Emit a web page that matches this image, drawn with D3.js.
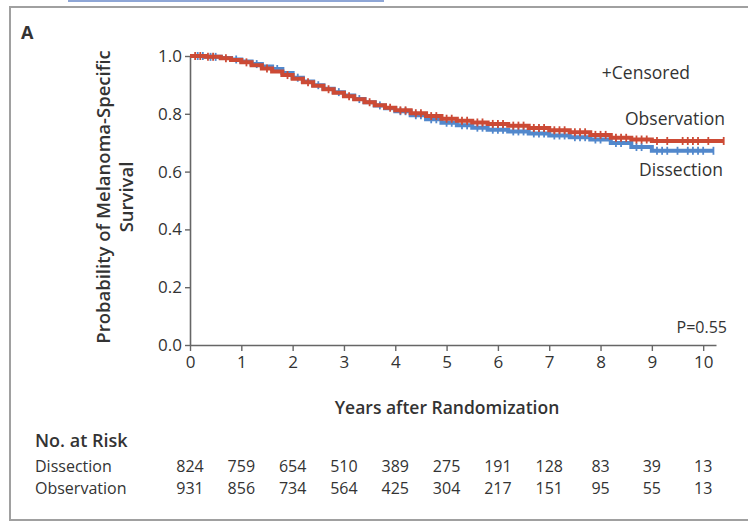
<!DOCTYPE html>
<html>
<head>
<meta charset="utf-8">
<script src="https://cdn.jsdelivr.net/npm/d3@7"></script>
<style>
  body { margin: 0; background: #fff; }
  text { font-family: "Open Sans", "Noto Sans", sans-serif; fill: #333; }
</style>
</head>
<body>
<div id="chart"></div>
<script>
// KM curves (years, survival)

var years = [0, 1, 2, 3, 4, 5, 6, 7, 8, 9, 10];
var yTicks = [0.0, 0.2, 0.4, 0.6, 0.8, 1.0];

var obsTimes = [0, 0.3, 0.6, 0.8, 1.0, 1.2, 1.4, 1.6, 1.8, 2.0, 2.2, 2.4, 2.6, 2.8, 3.0, 3.2, 3.4, 3.6, 3.8, 4.0, 4.3, 4.6, 4.9, 5.2, 5.5, 5.8, 6.2, 6.6, 7.0, 7.4, 7.8, 8.2, 8.6, 9.0, 10.4];
var obsSurv  = [1.0, 0.997, 0.992, 0.986, 0.978, 0.968, 0.957, 0.946, 0.934, 0.921, 0.909, 0.897, 0.885, 0.873, 0.861, 0.850, 0.840, 0.830, 0.821, 0.812, 0.802, 0.792, 0.783, 0.776, 0.770, 0.765, 0.759, 0.751, 0.743, 0.736, 0.727, 0.717, 0.711, 0.706, 0.706];

var disTimes = [0, 0.3, 0.6, 0.8, 1.0, 1.2, 1.4, 1.6, 1.8, 2.0, 2.2, 2.4, 2.6, 2.8, 3.0, 3.2, 3.4, 3.6, 3.8, 4.0, 4.3, 4.6, 4.9, 5.2, 5.5, 5.8, 6.2, 6.6, 7.0, 7.4, 7.8, 8.2, 8.6, 9.0, 10.2];
var disSurv  = [1.0, 0.997, 0.993, 0.988, 0.981, 0.972, 0.964, 0.955, 0.941, 0.925, 0.912, 0.899, 0.887, 0.875, 0.863, 0.851, 0.840, 0.829, 0.819, 0.809, 0.795, 0.781, 0.769, 0.760, 0.752, 0.745, 0.739, 0.732, 0.725, 0.719, 0.711, 0.699, 0.685, 0.672, 0.672];

// censoring times (hand placed, dense like the figure)
var obsCens = [0.1, 0.2, 0.35, 0.45, 0.7, 1.1, 1.5, 1.9, 2.3, 2.7, 3.1, 3.5, 3.9, 4.1, 4.2, 4.4, 4.5, 4.7, 4.8, 5.0, 5.1, 5.3, 5.4, 5.6, 5.7, 5.9, 6.0, 6.1, 6.3, 6.4, 6.5, 6.7, 6.8, 6.9, 7.1, 7.2, 7.3, 7.5, 7.6, 7.7, 7.9, 8.0, 8.1, 8.3, 8.4, 8.5, 8.7, 8.8, 8.9, 9.1, 9.3, 9.6, 9.7, 9.8, 9.9, 10.1, 10.4];
var disCens = [0.15, 0.25, 0.4, 0.5, 0.9, 1.3, 1.7, 2.1, 2.5, 2.9, 3.3, 3.7, 4.1, 4.2, 4.4, 4.5, 4.7, 4.8, 5.0, 5.1, 5.3, 5.4, 5.6, 5.7, 5.9, 6.0, 6.1, 6.3, 6.4, 6.5, 6.7, 6.8, 6.9, 7.1, 7.2, 7.3, 7.5, 7.6, 7.7, 7.9, 8.0, 8.3, 8.4, 8.7, 8.8, 9.1, 9.2, 9.3, 9.5, 9.7, 9.8, 9.9, 10.0, 10.2];

var riskDissection  = [824, 759, 654, 510, 389, 275, 191, 128, 83, 39, 13];
var riskObservation = [931, 856, 734, 564, 425, 304, 217, 151, 95, 55, 13];

var width = 748,
    height = 522;

var red = "#cc4a35",
    blue = "#5288cc";

var svg = d3.select("#chart").append("svg")
    .attr("width", width)
    .attr("height", height);

// frame + stray link underline at very top
svg.append("line")
    .attr("x1", 68).attr("x2", 384).attr("y1", 1).attr("y2", 1)
    .attr("stroke", "#8ea6d6").attr("stroke-width", 2);
svg.append("rect")
    .attr("x", 10).attr("y", 7)
    .attr("width", 746).attr("height", 513)
    .attr("fill", "none")
    .attr("stroke", "#a0a0a0")
    .attr("stroke-width", 2);

var x = d3.scaleLinear().domain([0, 10.25]).range([190, 716]);
var y = d3.scaleLinear().domain([0, 1]).range([345, 56]);

// axes
var xAxis = svg.append("g")
    .attr("transform", "translate(0,345)")
    .call(d3.axisBottom(x).tickValues(years).tickSize(6).tickSizeOuter(0).tickPadding(5));
var yAxis = svg.append("g")
    .attr("transform", "translate(190,0)")
    .call(d3.axisLeft(y).tickValues(yTicks).tickFormat(d3.format(".1f")).tickSize(5).tickSizeOuter(0).tickPadding(3));

[xAxis, yAxis].forEach(function(g) {
  g.select(".domain").attr("stroke", "#666").attr("stroke-width", 1.6);
  g.selectAll(".tick line").attr("stroke", "#666").attr("stroke-width", 1.4);
  g.selectAll(".tick text").style("font-size", "17px").attr("fill", "#555");
});

// step function lookup
function survAt(times, surv, t) {
  var i = d3.bisectRight(times, t) - 1;
  return surv[Math.max(0, i)];
}

var step = d3.line()
    .x(function(d) { return x(d[0]); })
    .y(function(d) { return y(d[1]); })
    .curve(d3.curveStepAfter);

function drawCurve(times, surv, cens, color) {
  svg.append("path")
      .datum(d3.zip(times, surv))
      .attr("fill", "none")
      .attr("stroke", color)
      .attr("stroke-width", 4)
      .attr("d", step);
  svg.selectAll(null)
      .data(cens)
      .enter().append("line")
      .attr("x1", function(d) { return x(d); })
      .attr("x2", function(d) { return x(d); })
      .attr("y1", function(d) { return y(survAt(times, surv, d)) - 4; })
      .attr("y2", function(d) { return y(survAt(times, surv, d)) + 4; })
      .attr("stroke", color)
      .attr("stroke-width", 1.8);
}

drawCurve(disTimes, disSurv, disCens, blue);
drawCurve(obsTimes, obsSurv, obsCens, red);

// labels
svg.append("text").attr("x", 21).attr("y", 39)
    .style("font-size", "18px").style("font-weight", "bold").attr("fill", "#222").text("A");

svg.append("text")
    .attr("transform", "translate(110,197) rotate(-90)")
    .attr("text-anchor", "middle")
    .style("font-size", "18.5px").style("font-weight", "600")
    .text("Probability of Melanoma-Specific");
svg.append("text")
    .attr("transform", "translate(133,197) rotate(-90)")
    .attr("text-anchor", "middle")
    .style("font-size", "18.5px").style("font-weight", "600")
    .text("Survival");

svg.append("text").attr("x", 447).attr("y", 414)
    .attr("text-anchor", "middle")
    .style("font-size", "17.5px").style("font-weight", "600")
    .text("Years after Randomization");

svg.append("text").attr("x", 690).attr("y", 79).attr("text-anchor", "end")
    .style("font-size", "17.5px").text("+Censored");
svg.append("text").attr("x", 725).attr("y", 125).attr("text-anchor", "end")
    .style("font-size", "17.5px").text("Observation");
svg.append("text").attr("x", 723).attr("y", 176).attr("text-anchor", "end")
    .style("font-size", "17.5px").text("Dissection");
svg.append("text").attr("x", 727).attr("y", 333).attr("text-anchor", "end")
    .style("font-size", "16px").attr("fill", "#444").text("P=0.55");

// number at risk table
svg.append("text").attr("x", 35).attr("y", 447)
    .style("font-size", "18px").style("font-weight", "600").text("No. at Risk");

var rows = [["Dissection", riskDissection, 472], ["Observation", riskObservation, 494]];
rows.forEach(function(r) {
  svg.append("text").attr("x", 35).attr("y", r[2])
      .style("font-size", "16px").attr("fill", "#444").text(r[0]);
  svg.selectAll(null)
      .data(r[1])
      .enter().append("text")
      .attr("x", function(d, i) { return x(years[i]); })
      .attr("y", r[2])
      .attr("text-anchor", "middle")
      .style("font-size", "16px")
      .attr("fill", "#444")
      .text(function(d) { return d; });
});
</script>
</body>
</html>
